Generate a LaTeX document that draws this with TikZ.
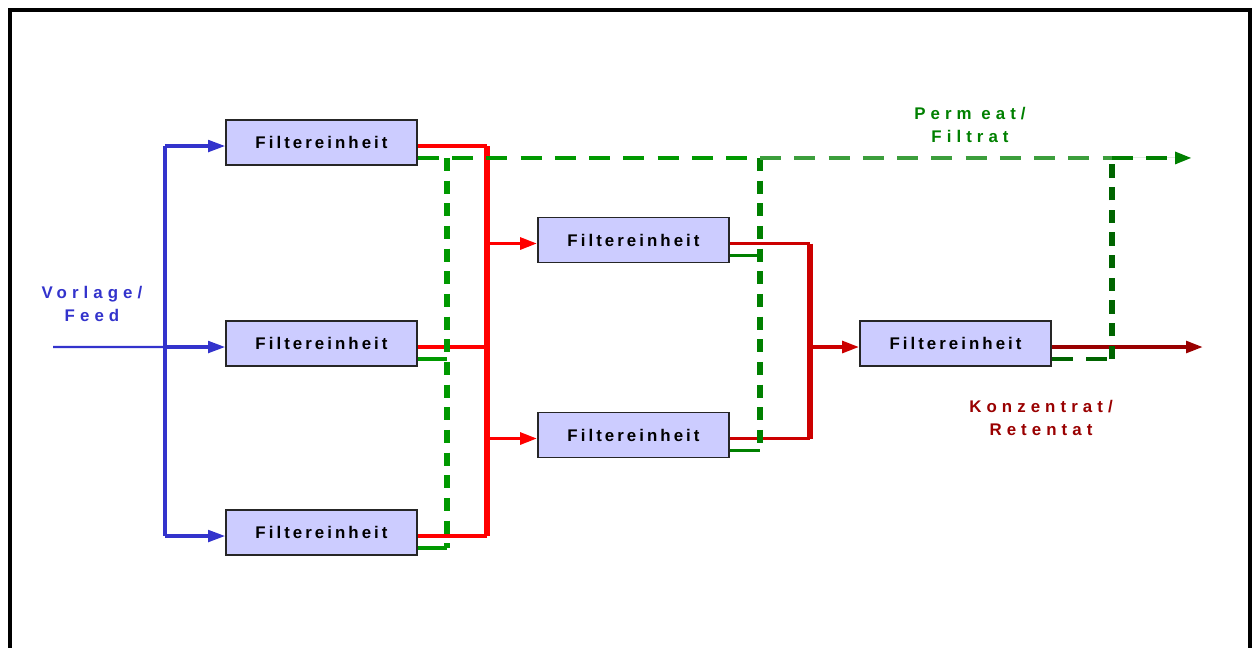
\documentclass[tikz,border=0pt]{standalone}
\usepackage{fontspec}
\setmainfont{Liberation Sans}
\newfontfamily\filterfont[LetterSpace=18]{Liberation Sans Bold}
\newfontfamily\lblfont[LetterSpace=30]{Liberation Sans Bold}
\usepackage{xcolor}
\usetikzlibrary{arrows.meta, calc}

\definecolor{feedblue}{RGB}{51,51,204}
\definecolor{boxfill}{RGB}{204,204,255}
\definecolor{retred}{RGB}{255,0,0}
\definecolor{retmid}{RGB}{204,0,0}
\definecolor{retdark}{RGB}{153,0,0}
\definecolor{permgreen}{RGB}{0,153,0}
\definecolor{permlight}{RGB}{60,158,60}
\definecolor{permmid}{RGB}{0,128,0}
\definecolor{permdark}{RGB}{0,100,0}

\begin{document}
\begin{tikzpicture}[
  x=0.02cm, y=-0.02cm,
  >={Triangle[length=3.4mm,width=2.3mm]},
  filter/.style={draw=black!85, fill=boxfill, line width=0.9pt,
                 minimum width=3.82cm, minimum height=0.9cm, inner sep=0pt,
                 font=\filterfont\fontsize{9.6}{11}\selectfont},
  lbl/.style={align=center, inner sep=0pt,
              font=\lblfont\fontsize{9.6}{13.6}\selectfont},
  feedline/.style={draw=feedblue, line width=1.4pt},
  feedbus/.style={draw=feedblue, line width=2.5pt},
  feedarrow/.style={->, draw=feedblue, fill=feedblue, line width=1.8pt},
  retline/.style={draw=retred, line width=2.2pt},
  retbus/.style={draw=retred, line width=3pt},
  hdash/.style={line width=2.5pt, dash pattern=on 12pt off 7.5pt},
  vdash/.style={line width=3pt, dash pattern=on 7.5pt off 5.4pt},
  stub/.style={line width=2pt},
  frame/.style={draw=black, line width=2pt},
]
\useasboundingbox (0,0) rectangle (1253,648);

% outer frame (open at the bottom)
\draw[frame] (10,648) |- (1250,10) -- (1250,648);

% filter units
\node[filter] (F1) at (321.5,142.5) {Filtereinheit};
\node[filter] (F2) at (321.5,343.5) {Filtereinheit};
\node[filter] (F3) at (321.5,532.5) {Filtereinheit};
\node[filter] (F4) at (633.5,240)   {Filtereinheit};
\node[filter] (F5) at (633.5,435)   {Filtereinheit};
\node[filter] (F6) at (955.5,343.5) {Filtereinheit};

% ports: inlet, retentate out, permeate out
\foreach \n in {1,...,6} {
  \coordinate (F\n i) at ([yshift=-2pt]F\n.west);
  \coordinate (F\n r) at ([yshift=-2pt]F\n.east);
  \coordinate (F\n g) at ([yshift=-8.8pt]F\n.east);
}

% bus positions
\coordinate (feed)  at (53,347);
\coordinate (fbus)  at (165,0);
\coordinate (rbus1) at (487,0);
\coordinate (rbus2) at (810,0);
\coordinate (kend)  at (1203,0);
\coordinate (gbus1) at (447,0);
\coordinate (gbus2) at (760,0);
\coordinate (gbus3) at (1112,0);
\coordinate (pend)  at (1192,0);

% labels
\node[lbl, text=feedblue] (vorl) at (92,304)   {Vorlage/\\Feed};
\node[lbl, text=permmid]  (perm) at (970,125)  {Perm eat/\\Filtrat};
\node[lbl, text=retdark]  (konz) at (1041,418) {Konzentrat/\\Retentat};

% --- feed ---
\draw[feedline] (feed) -- (F2i -| fbus);
\draw[feedbus] (F1i -| fbus) -- (F3i -| fbus);
\foreach \n in {1,2,3}
  \draw[feedarrow] (F\n i -| fbus) -- (F\n i);

% --- retentate, stage 1 ---
\foreach \n in {1,2,3}
  \draw[retline] (F\n r) -- (F\n r -| rbus1);
\draw[retbus] (F1r -| rbus1) -- (F3r -| rbus1);
\draw[retline, ->, fill=retred] (F4i -| rbus1) -- (F4i);
\draw[retline, ->, fill=retred] (F5i -| rbus1) -- (F5i);

% --- retentate, stage 2 ---
\draw[retline, draw=retmid] (F4r) -- (F4r -| rbus2);
\draw[retline, draw=retmid] (F5r) -- (F5r -| rbus2);
\draw[retbus, draw=retmid] (F4r -| rbus2) -- (F5r -| rbus2);
\draw[retline, draw=retmid, fill=retmid, ->] (F6i -| rbus2) -- (F6i);

% --- concentrate out ---
\draw[retline, draw=retdark, fill=retdark, ->] (F6r) -- (F6r -| kend);

% --- permeate collectors ---
\draw[stub, draw=permgreen] (F2g) -- (F2g -| gbus1);
\draw[stub, draw=permgreen] (F3g) -- (F3g -| gbus1);
\draw[vdash, draw=permgreen] (F1g -| gbus1) -- (F3g -| gbus1);

\draw[stub, draw=permmid] (F4g) -- (F4g -| gbus2);
\draw[stub, draw=permmid] (F5g) -- (F5g -| gbus2);
\draw[vdash, draw=permmid] (F1g -| gbus2) -- (F5g -| gbus2);

\draw[hdash, draw=permdark] (F6g) -- (F6g -| gbus3);
\draw[vdash, draw=permdark] (F6g -| gbus3) -- (F1g -| gbus3);

% --- permeate out ---
\draw[hdash, draw=permgreen] (F1g) -- (F1g -| gbus2);
\draw[hdash, draw=permlight] (F1g -| gbus2) -- (F1g -| gbus3);
\draw[hdash, draw=permmid, fill=permmid, ->] (F1g -| gbus3) -- (F1g -| pend);

\end{tikzpicture}
\end{document}
